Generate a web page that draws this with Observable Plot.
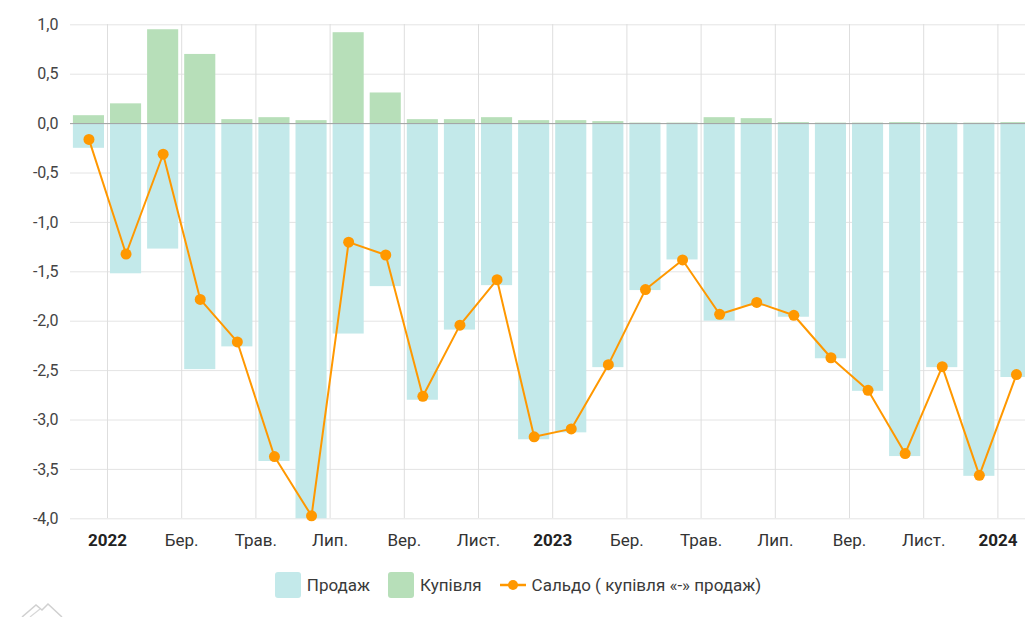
<!DOCTYPE html>
<html>
<head>
<meta charset="utf-8">
<script src="https://cdn.jsdelivr.net/npm/d3@7"></script>
<script src="https://cdn.jsdelivr.net/npm/@observablehq/plot@0.6"></script>
<style>
  html, body { margin: 0; padding: 0; background: #fff; overflow: hidden; }
  body { width: 1025px; height: 617px; position: relative; font-family: Roboto, "Noto Sans", sans-serif; }
  #chart { width: 1025px; height: 560px; overflow: hidden; }
  #legend { display: flex; justify-content: center; align-items: center; box-sizing: border-box;
            width: 1025px; padding-left: 11px; margin-top: 12px; font-size: 17px; color: #3a3a3a; }
  .item { display: flex; align-items: center; margin: 0 9px; }
  .sw { width: 26px; height: 26px; border-radius: 3px; margin-right: 6px; }
  #logo { position: absolute; left: 18px; top: 600px; }
</style>
</head>
<body>
<div id="chart"></div>
<div id="legend">
  <div class="item"><div class="sw" style="background:#c3e9ea"></div><span>Продаж</span></div>
  <div class="item"><div class="sw" style="background:#b7dfb9"></div><span>Купівля</span></div>
  <div class="item"><svg width="26" height="14" style="margin-right:6px"><line x1="0" y1="7" x2="26" y2="7" stroke="#ff9800" stroke-width="2.5"/><circle cx="13" cy="7" r="5" fill="#ff9800"/></svg><span>Сальдо ( купівля «-» продаж)</span></div>
</div>
<svg id="logo" width="50" height="17"><path d="M4 17 L18 5 L24 10 L30 4 L44 17" fill="none" stroke="#d0d0d0" stroke-width="1.5"/><path d="M12 17 L22 9" fill="none" stroke="#d8d8d8" stroke-width="1.2"/></svg>
<script>
// Months: Dec 2021 .. Jan 2024
const months = ["2021-12","2022-01","2022-02","2022-03","2022-04","2022-05","2022-06","2022-07","2022-08","2022-09","2022-10","2022-11","2022-12","2023-01","2023-02","2023-03","2023-04","2023-05","2023-06","2023-07","2023-08","2023-09","2023-10","2023-11","2023-12","2024-01"];
// Продаж (sales, negative)
const sales = [-0.25,-1.52,-1.27,-2.49,-2.26,-3.42,-4.00,-2.13,-1.65,-2.80,-2.09,-1.64,-3.20,-3.13,-2.47,-1.69,-1.38,-2.00,-1.85,-1.96,-2.38,-2.71,-3.37,-2.47,-3.57,-2.57];
// Купівля (purchases)
const purchases = [0.08,0.20,0.95,0.70,0.04,0.06,0.03,0.92,0.31,0.04,0.04,0.06,0.03,0.03,0.02,0.005,0.005,0.06,0.05,0.01,0.005,0.005,0.01,0.005,0.005,0.01];
// Сальдо (balance)
const balance = [-0.16,-1.32,-0.31,-1.78,-2.21,-3.37,-3.97,-1.20,-1.33,-2.76,-2.04,-1.58,-3.17,-3.09,-2.44,-1.68,-1.38,-1.93,-1.81,-1.94,-2.37,-2.70,-3.34,-2.46,-3.56,-2.54];
// X tick labels (at the start of every second month, beginning Jan 2022)
const tickMonths = ["2022-01","2022-03","2022-05","2022-07","2022-09","2022-11","2023-01","2023-03","2023-05","2023-07","2023-09","2023-11","2024-01"];
const tickLabels = ["2022","Бер.","Трав.","Лип.","Вер.","Лист.","2023","Бер.","Трав.","Лип.","Вер.","Лист.","2024"];
const yTicks = [1,0.5,0,-0.5,-1,-1.5,-2,-2.5,-3,-3.5,-4];

const data = months.map((m, i) => ({i, month: m, sales: sales[i], purchases: purchases[i], balance: balance[i]}));
const ticks = tickMonths.map((m, k) => ({pos: months.indexOf(m), label: tickLabels[k], year: /^\d{4}$/.test(tickLabels[k])}));
const labelAt = new Map(ticks.map(t => [t.pos, t.label]));
const yearPos = ticks.filter(t => t.year).map(t => t.pos);
const monthPos = ticks.filter(t => !t.year).map(t => t.pos);
const fmtY = v => v.toFixed(1).replace(".", ",");

const plot = Plot.plot({
  width: 1025,
  height: 560,
  marginTop: 24,
  marginBottom: 42,
  marginLeft: 70,
  marginRight: 0,
  style: {fontFamily: "Roboto, sans-serif", background: "#fff", overflow: "hidden"},
  x: {domain: [0, months.length], range: [69.9, 1034.5], label: null},
  y: {domain: [-4, 1], range: [518.3, 24.3], label: null},
  marks: [
    Plot.gridY(yTicks, {stroke: "#e4e4e4", strokeOpacity: 1}),
    Plot.gridX(ticks.map(t => t.pos), {stroke: "#dedede", strokeOpacity: 1}),
    Plot.rect(data, {x1: "i", x2: d => d.i + 1, y1: 0, y2: "sales", fill: "#c3e9ea", insetLeft: 3, insetRight: 3}),
    Plot.rect(data, {x1: "i", x2: d => d.i + 1, y1: 0, y2: "purchases", fill: "#b7dfb9", insetLeft: 3, insetRight: 3}),
    Plot.ruleY([0], {stroke: "#a0a0a0"}),
    Plot.line(data, {x: d => d.i + 0.5, y: "balance", stroke: "#ff9800", strokeWidth: 2}),
    Plot.dot(data, {x: d => d.i + 0.5, y: "balance", r: 5.5, fill: "#ff9800", stroke: "none"}),
    Plot.axisY(yTicks, {tickSize: 0, tickPadding: 12, tickFormat: fmtY, fontSize: 16, color: "#444", label: null}),
    Plot.axisX(monthPos, {tickSize: 0, tickPadding: 15, tickFormat: d => labelAt.get(d), fontSize: 17, color: "#333", label: null}),
    Plot.axisX(yearPos, {tickSize: 0, tickPadding: 15, tickFormat: d => labelAt.get(d), fontSize: 17, fontWeight: "bold", color: "#222", label: null})
  ]
});
document.getElementById("chart").appendChild(plot);
</script>
</body>
</html>
